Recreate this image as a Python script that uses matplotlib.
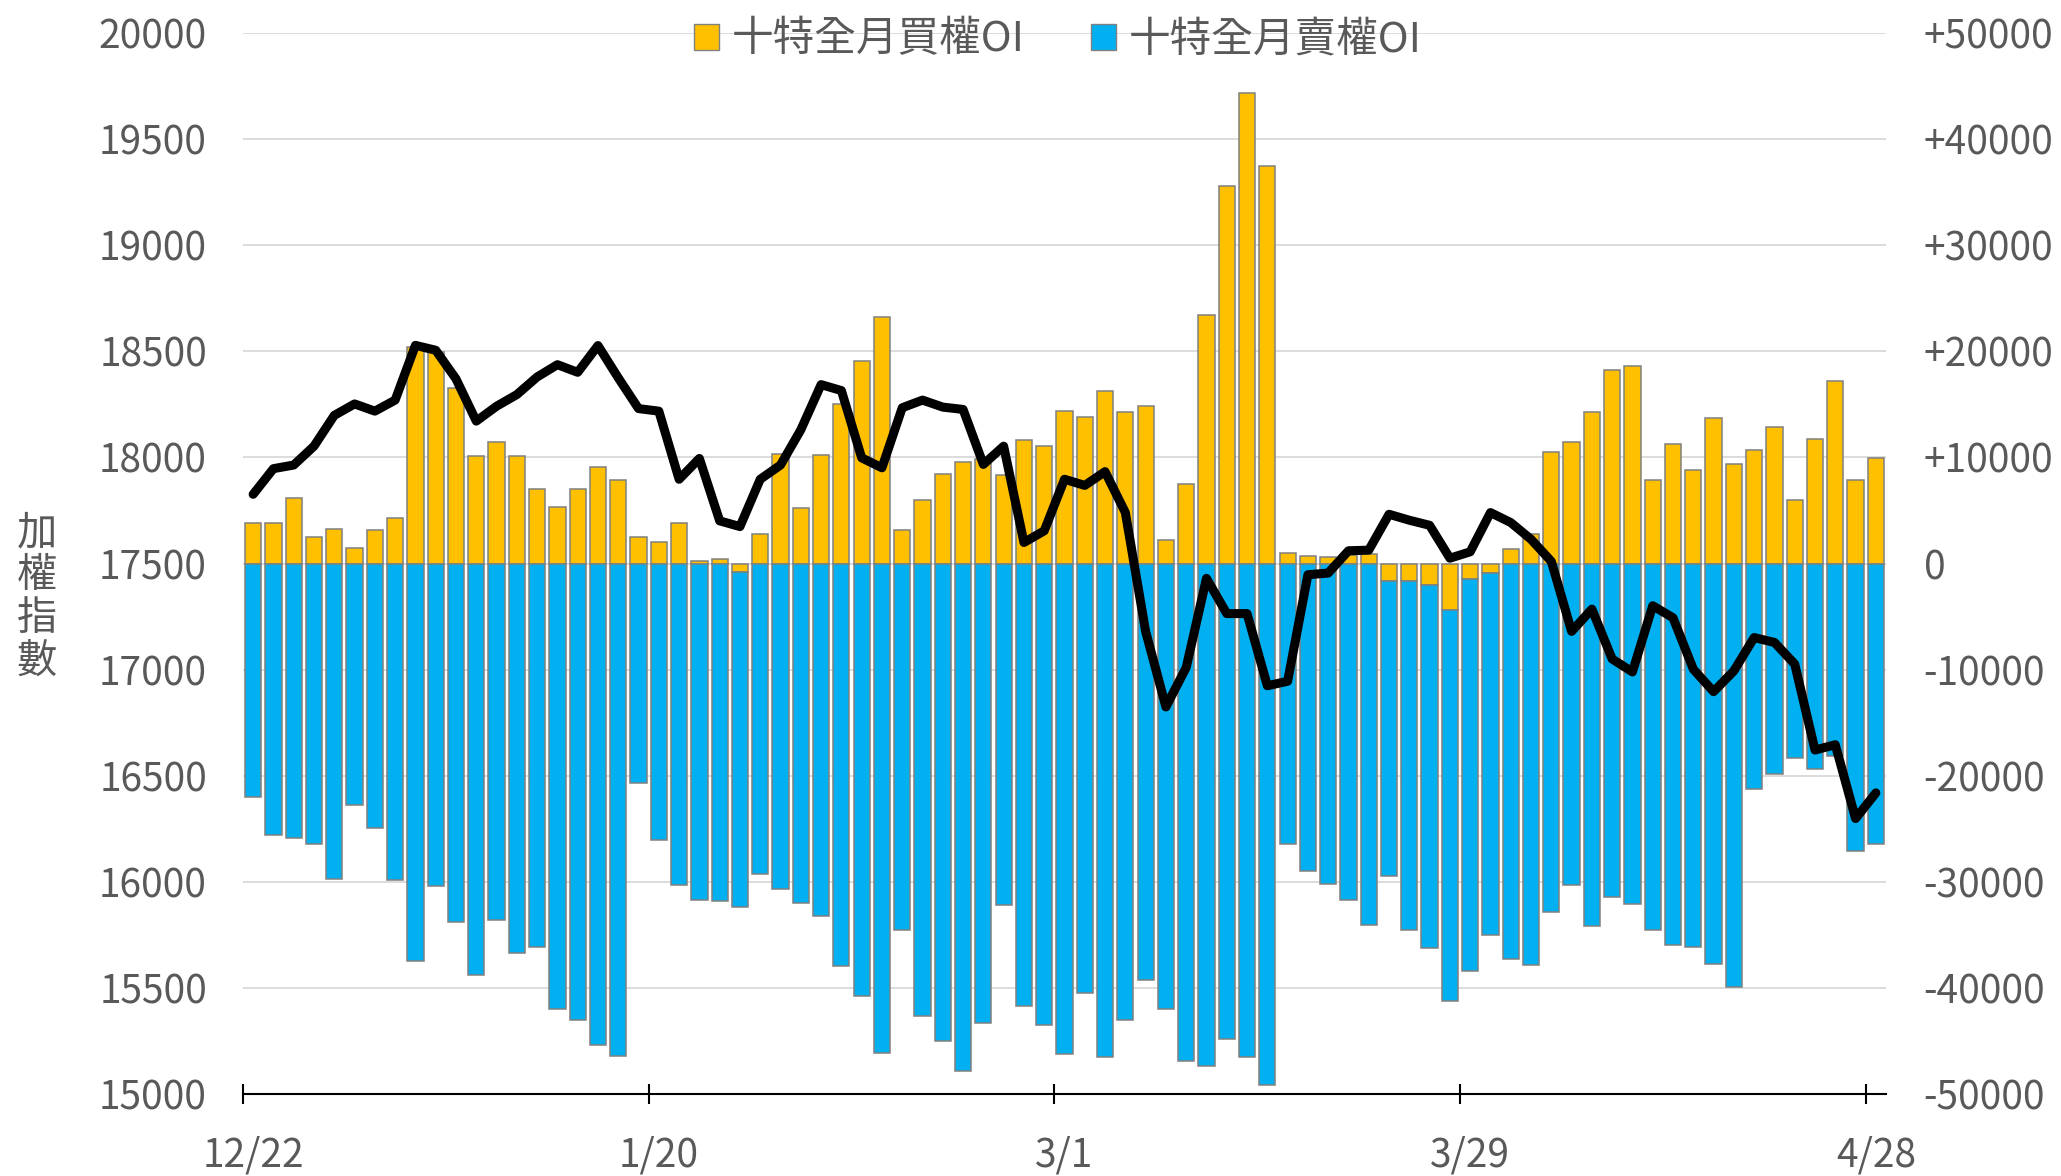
import matplotlib.pyplot as plt
from matplotlib.patches import Patch
from matplotlib.ticker import FuncFormatter, MultipleLocator

plt.rcParams['font.family'] = ['Noto Sans CJK TC', 'DejaVu Sans']

# category labels shown on the x axis (every 20th trading day)
DATES    = ['12/22', '1/20', '3/1', '3/29', '4/28']
DATE_IDX = [0, 20, 40, 60, 80]

# 十特全月買權OI (right axis)
CALL_OI = [3860, 3790, 6150, 2510, 3260, 1440, 3170, 4300, 20410, 19970,
           16550, 10130, 11410, 10130, 6990, 5300, 7050, 9120, 7840, 2540,
           1980, 3830, 250, 400, -840, 2820, 10280, 5270, 10220, 14990,
           19060, 23260, 3140, 5960, 8400, 9590, 9810, 8340, 11600, 11100,
           14330, 13790, 16300, 14260, 14860, 2260, 7460, 23450, 35580, 44300,
           37460, 970, 720, 600, 780, 940, -1620, -1620, -2010, -4400,
           -1490, -910, 1350, 2760, 10530, 11440, 14260, 18210, 18650, 7870,
           11290, 8810, 13700, 9410, 10720, 12820, 6020, 11760, 17180, 7840,
           9970]

# 十特全月賣權OI (right axis)
PUT_OI = [-22010, -25600, -25860, -26440, -29740, -22720, -24950, -29840, -37510, -30420,
          -33820, -38770, -33560, -36730, -36110, -41970, -43010, -45370, -46400, -20650,
          -26080, -30290, -31680, -31840, -31520, -29220, -30680, -31970, -33230, -37960,
          -40740, -46110, -34590, -42680, -45050, -47830, -43270, -32200, -41710, -43490,
          -46210, -40450, -46500, -43010, -39220, -42000, -46890, -47340, -44790, -46500,
          -49120, -26410, -29000, -30220, -31750, -34080, -27860, -32940, -34270, -36830,
          -36890, -34080, -37250, -37800, -32810, -30290, -34170, -31450, -32130, -34500,
          -35950, -36150, -37730, -39900, -21260, -19840, -18350, -19350, -18120, -27090,
          -26470]

# 加權指數 (left axis)
TWII = [17826, 17947, 17964, 18053, 18198, 18252, 18218, 18270, 18528, 18505,
        18370, 18171, 18241, 18296, 18379, 18437, 18401, 18527, 18375, 18230,
        18218, 17897, 17995, 17701, 17674, 17897, 17964, 18130, 18343, 18315,
        17998, 17951, 18234, 18270, 18237, 18226, 17967, 18053, 17599, 17654,
        17897, 17868, 17933, 17740, 17180, 16824, 17010, 17430, 17264, 17264,
        16924, 16945, 17447, 17455, 17560, 17563, 17732, 17704, 17680, 17525,
        17555, 17740, 17693, 17614, 17510, 17180, 17285, 17050, 16989, 17301,
        17244, 17002, 16896, 16994, 17151, 17128, 17026, 16621, 16646, 16298,
        16419]

TXT = '#595959'
n = len(TWII)
x = list(range(n))
# negative call values stack below zero, puts continue from there
put_base = [min(v, 0) for v in CALL_OI]

fig = plt.figure(figsize=(20.61, 11.76), dpi=100)
ax = fig.add_axes([243 / 2061, 82 / 1176, 1643 / 2061, 1061 / 1176])
ax2 = ax.twinx()
ax.set_zorder(ax2.get_zorder() + 1)
ax.patch.set_visible(False)

# bars on the right axis
ax2.bar(x, CALL_OI, width=0.8, color='#FFC000', edgecolor='#808080', linewidth=1.1, zorder=2)
ax2.bar(x, PUT_OI, width=0.8, bottom=put_base, color='#00B0F0', edgecolor='#808080',
        linewidth=1.1, zorder=2)
ax2.set_ylim(-50000, 50000)
ax2.yaxis.set_major_locator(MultipleLocator(10000))
ax2.yaxis.set_major_formatter(FuncFormatter(lambda v, p: f'+{int(v)}' if v > 0 else f'{int(v)}'))
ax2.grid(axis='y', color='#D9D9D9', lw=1.3)
ax2.set_axisbelow(True)
ax2.tick_params(axis='y', length=0, labelsize=28, labelcolor=TXT, pad=27)
for tl in ax2.get_yticklabels():
    tl.set_horizontalalignment('left')

# index line on the left axis
ax.plot(x, TWII, color='black', lw=6.5, solid_joinstyle='round', solid_capstyle='round')
ax.set_ylim(15000, 20000)
ax.yaxis.set_major_locator(MultipleLocator(500))
ax.tick_params(axis='y', length=0, labelsize=28, labelcolor=TXT, pad=26)
ax.set_xlim(-0.5, n - 0.5)

ax.set_xticks([i - 0.5 for i in DATE_IDX])
ax.set_xticklabels([''] * len(DATE_IDX))
ax.set_xticks(DATE_IDX, minor=True)
ax.set_xticklabels(DATES, minor=True)
ax.tick_params(axis='x', which='major', direction='inout', length=14, width=1.5, color='black')
ax.tick_params(axis='x', which='minor', length=0, labelsize=28, labelcolor=TXT, pad=30)

for a in (ax, ax2):
    for s in ('top', 'left', 'right', 'bottom'):
        a.spines[s].set_visible(False)
ax.spines['bottom'].set_visible(True)
ax.spines['bottom'].set_color('black')
ax.spines['bottom'].set_linewidth(1.5)

handles = [Patch(facecolor='#FFC000', edgecolor='#808080', label='十特全月買權OI'),
           Patch(facecolor='#00B0F0', edgecolor='#808080', label='十特全月賣權OI')]
ax.legend(handles=handles, loc='center', bbox_to_anchor=(0.496, 1 - 7 / 1061), ncol=2,
          frameon=False, fontsize=30, handlelength=0.6, handleheight=0.6,
          handletextpad=0.3, columnspacing=1.6, labelcolor=TXT)

fig.text(37 / 2061, 1 - 597 / 1176, '加\n權\n指\n數', ha='center', va='center',
         fontsize=29, color=TXT, linespacing=1.05)

fig.savefig('out.png', dpi=100)
